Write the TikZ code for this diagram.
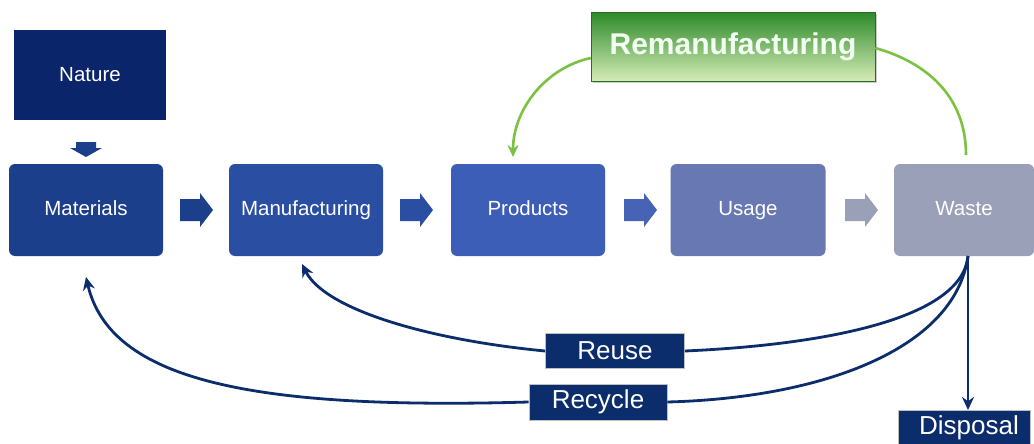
\documentclass[tikz,border=0pt]{standalone}
\usepackage{fontspec}
\setmainfont{Liberation Sans}
\usetikzlibrary{arrows.meta,shadows}
\definecolor{navy}{HTML}{0B2D6C}
\definecolor{cnature}{HTML}{0A256A}
\definecolor{cmat}{HTML}{1C3F8C}
\definecolor{cman}{HTML}{2A4FA2}
\definecolor{cprod}{HTML}{3D5EB6}
\definecolor{cuse}{HTML}{6878B2}
\definecolor{cwaste}{HTML}{9AA0B8}
\definecolor{cgreen}{HTML}{7CC142}
\definecolor{gtop}{HTML}{2E8A2A}
\definecolor{gbot}{HTML}{D6EDB8}
\tikzset{
  box/.style={rounded corners=6pt, inner sep=0pt, text=white, font=\fontsize{20.5}{24}\selectfont, text height=15pt, text depth=4pt},
  label/.style={fill=navy, draw=gray!50, line width=0.8pt, inner sep=0pt, text=white, font=\fontsize{26}{30}\selectfont},
  conn/.style={draw=navy, line width=2.8pt, -{Stealth[length=13pt,width=12pt]}},
  plain/.style={draw=navy, line width=2.8pt},
  gconn/.style={draw=cgreen, line width=2.6pt},
  blockarrow/.pic={\fill (0,-11) -- (20,-11) -- (20,-17) -- (33,0) -- (20,17) -- (20,11) -- (0,11) -- cycle;}
}
\begin{document}
\begin{tikzpicture}[x=1pt,y=-1pt]
\useasboundingbox[fill=white] (0,0) rectangle (1034,444);
% boxes
\node[fill=cnature, inner sep=0pt, text=white, font=\fontsize{20.5}{24}\selectfont, minimum width=152pt, minimum height=90pt] (nature) at (90,75) {Nature};
\node[box, fill=cmat, minimum width=154pt, minimum height=92pt] (mat) at (86,210) {Materials};
\node[box, fill=cman, minimum width=154pt, minimum height=92pt] (man) at (306,210) {Manufacturing};
\node[box, fill=cprod, minimum width=154pt, minimum height=92pt] (prod) at (528,210) {Products};
\node[box, fill=cuse, minimum width=155pt, minimum height=92pt] (usage) at (748,210) {Usage};
\node[box, fill=cwaste, minimum width=140pt, minimum height=92pt] (waste) at (964,210) {Waste};
% block arrows
\pic[fill=cmat] at (180,210) {blockarrow};
\pic[fill=cman] at (400,210) {blockarrow};
\pic[fill=cprod!80!cuse] at (624,210) {blockarrow};
\pic[fill=cwaste] at (845,210) {blockarrow};
\fill[cmat] (76,142) -- (96,142) -- (96,148) -- (102,148) -- (86,157) -- (70,148) -- (76,148) -- cycle;
% remanufacturing
\node[draw=gtop!80!black, line width=0.6pt, top color=gtop, bottom color=gbot, drop shadow={shadow xshift=1.5pt, shadow yshift=-1.5pt, opacity=0.4},
  minimum width=284pt, minimum height=69pt, inner sep=0pt, text=white!95!green, font=\bfseries\fontsize{30}{34}\selectfont] (reman) at (733,47) {Remanufacturing};
% labels
\node[label, minimum width=139pt, minimum height=35pt] (reuse) at (615,351) {Reuse};
\node[label, minimum width=138pt, minimum height=36pt] (recycle) at (598,402) {Recycle};
\node[label, minimum width=132pt, minimum height=40pt, anchor=north west] (disposal) at (898,410) {};
\node[text=white, font=\fontsize{26}{30}\selectfont] at (969,428) {Disposal};
\coordinate (wb) at (968,256);
% green connectors
\draw[gconn, -{Stealth[length=12pt,width=11pt]}] (reman.west |- 0,58) .. controls (545,68) and (513,110) .. (513,157);
\draw[gconn] (966,155) .. controls (966,95) and (925,62) .. (reman.east |- 0,48);
% blue connectors
\draw[plain] (wb) .. controls (962,320) and (820,345) .. (reuse.east);
\draw[conn] (reuse.west) .. controls (430,340) and (325,310) .. (302,264);
\draw[plain] (wb) .. controls (955,350) and (820,398) .. (recycle.east);
\draw[conn] (recycle.west) .. controls (250,410) and (110,380) .. (86,277);
\draw[conn] (wb) -- (968,410);
\end{tikzpicture}
\end{document}
